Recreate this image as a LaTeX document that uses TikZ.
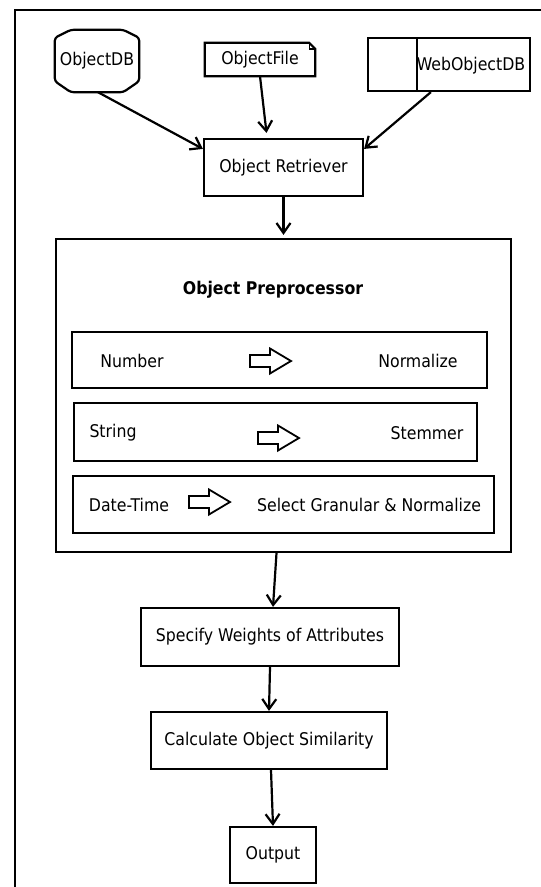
\documentclass[tikz,border=0pt]{standalone}
\usepackage{fontspec}
\setmainfont{DejaVu Sans Condensed}
\usetikzlibrary{arrows.meta,calc}
\begin{document}
\begin{tikzpicture}[x=1pt,y=-1pt,
  every node/.style={font=\fontsize{17.5}{21}\selectfont, inner sep=0pt},
  box/.style={draw, line width=2.2pt, rectangle},
  lbl/.style={},
  ln/.style={line width=2.2pt},
  arr/.style={line width=2.2pt, -{Straight Barb[length=10pt,width=14pt]}},
  blockarrow/.pic={\draw[line width=1.8pt, line join=miter] (0,-6) -- (20,-6) -- (20,-12.5) -- (41,0) -- (20,12.5) -- (20,6) -- (0,6) -- cycle;}
]
\fill[white] (0,0) rectangle (541,887);
\useasboundingbox (0,0) rectangle (541,887);
% frame
\draw[line width=2.8pt] (15,887) -- (15,10) -- (541,10);

% ObjectDB cylinder
\node[minimum width=84, minimum height=62] (db) at (97,61) {ObjectDB};
\draw[ln, rounded corners=3pt] ($(db.north west)+(0,8)$) -- ($(db.north west)+(16,0)$) -- ($(db.north east)+(-16,0)$) -- ($(db.north east)+(0,8)$)
  -- ($(db.south east)+(0,-11)$) -- ($(db.south east)+(-16,0)$) -- ($(db.south west)+(16,0)$) -- ($(db.south west)+(0,-11)$) -- cycle;

% ObjectFile
\node[minimum width=110, minimum height=33] (of) at (260,59.5) {ObjectFile};
\draw[ln, line join=miter] (of.north west) -- ($(of.north east)+(-6,0)$) -- ($(of.north east)+(0,6)$) -- (of.south east) -- (of.south west) -- cycle;
\draw[line width=1.4pt] ($(of.north east)+(-6,0)$) -- ($(of.north east)+(-6,6)$) -- ($(of.north east)+(0,6)$);

% WebObjectDB
\node[box, minimum width=162, minimum height=53] (web) at (449,64.5) {};
\draw[ln] (417,38) -- (417,91);
\node[lbl] (webt) at (471,66) {WebObjectDB};

% Object Retriever
\node[box, minimum width=159, minimum height=57] (ret) at (283.5,167.5) {Object Retriever};

% Preprocessor
\node[box, minimum width=455, minimum height=313] (pre) at (283.5,395.5) {};
\node[lbl, font=\fontsize{17.5}{21}\selectfont\bfseries] (ptitle) at (273,290) {Object Preprocessor};

\node[box, minimum width=415, minimum height=56] (b1) at (279.5,360) {};
\node[lbl] (t1a) at (132,361) {Number};
\node[lbl] (t1b) at (418,361) {Normalize};
\pic at (250,361) {blockarrow};

\node[box, minimum width=403, minimum height=58] (b2) at (275.5,432) {};
\node[lbl] (t2a) at (113,433) {String};
\node[lbl] (t2b) at (427,433) {Stemmer};
\pic at (258,438) {blockarrow};

\node[box, minimum width=421, minimum height=57] (b3) at (283.5,504.5) {};
\node[lbl] (t3a) at (129,505) {Date-Time};
\node[lbl] (t3b) at (369,505) {Select Granular \& Normalize};
\pic at (189,502) {blockarrow};

% lower chain
\node[box, minimum width=258, minimum height=58] (spec) at (270,637) {Specify Weights of Attributes};
\node[box, minimum width=236, minimum height=57] (sim) at (269,740.5) {Calculate Object Similarity};
\node[box, minimum width=86, minimum height=56] (out) at (273,855) {Output};

% connectors
\draw[arr] ($(db.south)+(1,0)$) -- ($(ret.north west)+(0,11)$);
\draw[arr] (of.south) -- ($(ret.north)+(-17,-5)$);
\draw[arr] ($(web.south west)+(64,0)$) -- ($(ret.north east)+(0,11)$);
\draw[arr] (ret.south) -- ($(pre.north)+(0,-3)$);
\draw[arr] ($(pre.south)+(-7,0)$) -- ($(spec.north)+(3,0)$);
\draw[arr] (spec.south) -- (sim.north);
\draw[arr] ($(sim.south)+(2,0)$) -- ($(out.north)+(0,0)$);
\end{tikzpicture}
\end{document}
